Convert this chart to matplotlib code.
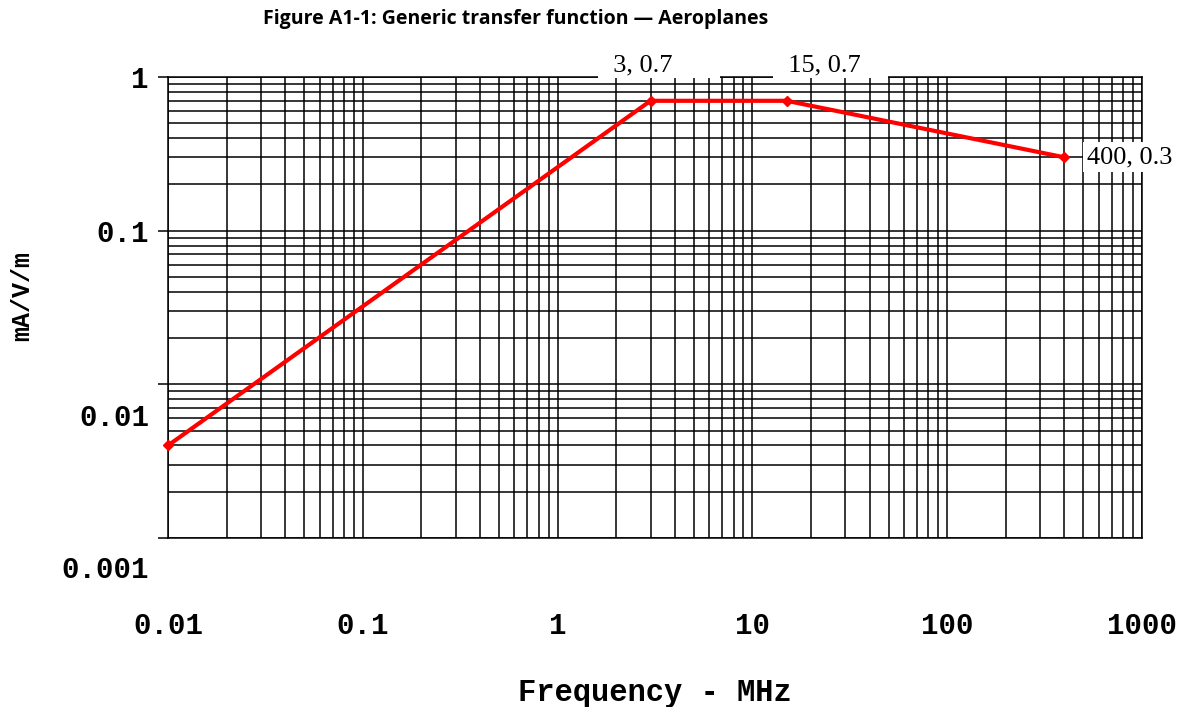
import numpy as np
import matplotlib.pyplot as plt
from matplotlib.ticker import LogLocator, NullFormatter

# datos de la curva (frecuencia en MHz, mA/V/m)
frecuencia = [0.01, 3, 15, 400]
respuesta = [0.004, 0.7, 0.7, 0.3]
etiquetas_puntos = ["  3, 0.7       ", "  15, 0.7    ", "400, 0.3"]

xticks = [0.01, 0.1, 1, 10, 100, 1000]
xtick_labels = ["0.01", "0.1", "1", "10", "100", "1000"]
yticks = [1, 0.1, 0.01, 0.001]
ytick_labels = ["1", "0.1", "", ""]

mono = "Liberation Mono"
serif = "Liberation Serif"

fig = plt.figure(figsize=(11.93, 7.07), dpi=100)
ax = fig.add_axes([168/1193, 1 - 538/707, 974/1193, 461/707])

ax.set_xscale("log")
ax.set_yscale("log")
ax.set_xlim(0.01, 1000)
ax.set_ylim(0.001, 1)

# rejilla completa (mayor y menor)
ax.xaxis.set_major_locator(LogLocator(base=10, numticks=20))
ax.xaxis.set_minor_locator(LogLocator(base=10, subs=np.arange(2, 10), numticks=50))
ax.yaxis.set_minor_locator(LogLocator(base=10, subs=np.arange(2, 10), numticks=50))
ax.xaxis.set_minor_formatter(NullFormatter())
ax.yaxis.set_minor_formatter(NullFormatter())
ax.grid(True, which="both", color="black", linewidth=1.1)
ax.set_axisbelow(True)
for s in ax.spines.values():
    s.set_linewidth(1.1)

ax.set_xticks(xticks)
ax.set_xticklabels(xtick_labels, fontfamily=mono, fontweight="bold", fontsize=21)
ax.set_yticks(yticks)
ax.set_yticklabels(ytick_labels, fontfamily=mono, fontweight="bold", fontsize=21)
ax.tick_params(axis="x", which="both", length=0, pad=53.5)
ax.tick_params(axis="y", which="major", length=7.2, width=1.1, pad=6.5)
ax.tick_params(axis="y", which="minor", length=0)

# etiquetas del eje y que en el original aparecen desplazadas hacia abajo
for val, txt, dy in [(0.01, "0.01", -31), (0.001, "0.001", -29)]:
    ax.annotate(txt, xy=(0, val), xycoords=("axes fraction", "data"),
                xytext=(-19*0.72, dy*0.72), textcoords="offset points",
                ha="right", va="center_baseline", fontfamily=mono,
                fontweight="bold", fontsize=21, annotation_clip=False)

ax.plot(frecuencia, respuesta, color="red", linewidth=3, marker="D",
        markersize=5.5, zorder=5, clip_on=False)

# etiquetas de los puntos (las dos primeras tapan el borde superior)
for i, txt, dx in [(1, etiquetas_puntos[0], -51), (2, etiquetas_puntos[1], -12)]:
    ax.annotate(txt, xy=(frecuencia[i], 1.0), xycoords=("data", "axes fraction"),
                xytext=(dx*0.72, 0.5), textcoords="offset points",
                ha="left", va="bottom", fontfamily=serif, fontsize=19,
                bbox=dict(boxstyle="square,pad=0.05", fc="white", ec="none"),
                zorder=6, annotation_clip=False)
ax.annotate(etiquetas_puntos[2], xy=(frecuencia[3], respuesta[3]),
            xytext=(22.5*0.72, 0), textcoords="offset points",
            ha="left", va="center", fontfamily=serif, fontsize=19,
            bbox=dict(boxstyle="square,pad=0.15", fc="white", ec="none"),
            zorder=6, annotation_clip=False)

ax.set_xlabel("Frequency - MHz", fontfamily=mono, fontweight="bold",
              fontsize=22, labelpad=27)
ax.set_ylabel("mA/V/m", fontfamily=mono, fontweight="bold", fontsize=18)
ax.yaxis.set_label_coords(-0.137, 0.525)

fig.text(516/1193, 1 - 19/707, "Figure A1-1: Generic transfer function \u2014 Aeroplanes",
         ha="center", va="center", fontfamily="Open Sans", fontweight="bold", fontsize=14)

fig.savefig("out.png", dpi=100)
